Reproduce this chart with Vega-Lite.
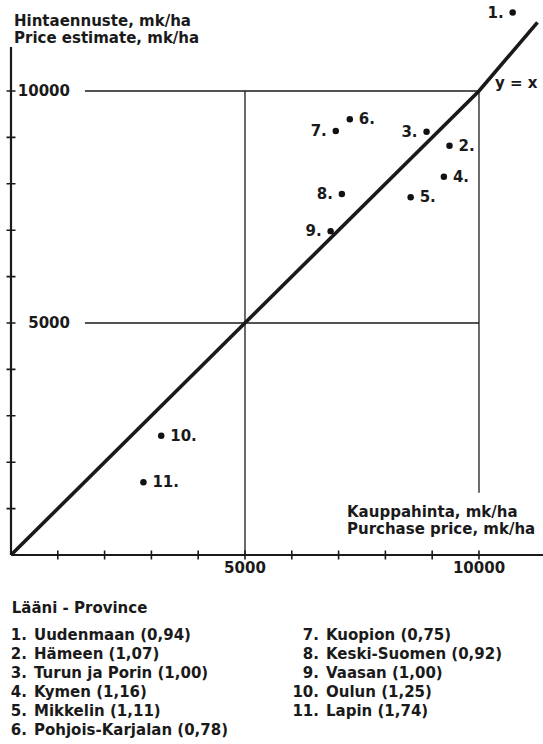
{
  "$schema": "https://vega.github.io/schema/vega-lite/v6.json",
  "width": 543,
  "height": 744,
  "autosize": "none",
  "padding": 0,
  "background": "white",
  "config": {
    "view": {"stroke": null},
    "axis": {"disable": true},
    "text": {"font": "DejaVu Sans", "fontWeight": "bold", "fontSize": 15, "color": "#1a1a1a"}
  },
  "datasets": {
    "provinces": [
      {"id": 1, "province": "Uudenmaan", "ratio": "0,94", "purchase": 10720, "estimate": 11690},
      {"id": 2, "province": "Hämeen", "ratio": "1,07", "purchase": 9370, "estimate": 8820},
      {"id": 3, "province": "Turun ja Porin", "ratio": "1,00", "purchase": 8880, "estimate": 9120},
      {"id": 4, "province": "Kymen", "ratio": "1,16", "purchase": 9250, "estimate": 8150},
      {"id": 5, "province": "Mikkelin", "ratio": "1,11", "purchase": 8540, "estimate": 7710},
      {"id": 6, "province": "Pohjois-Karjalan", "ratio": "0,78", "purchase": 7240, "estimate": 9390},
      {"id": 7, "province": "Kuopion", "ratio": "0,75", "purchase": 6940, "estimate": 9140},
      {"id": 8, "province": "Keski-Suomen", "ratio": "0,92", "purchase": 7070, "estimate": 7780},
      {"id": 9, "province": "Vaasan", "ratio": "1,00", "purchase": 6830, "estimate": 6980},
      {"id": 10, "province": "Oulun", "ratio": "1,25", "purchase": 3210, "estimate": 2570},
      {"id": 11, "province": "Lapin", "ratio": "1,74", "purchase": 2830, "estimate": 1570}
    ],
    "lines": [
      {"kind": "grid", "x1": 1580, "x2": 10000, "y1": 10000, "y2": 10000},
      {"kind": "grid", "x1": 1580, "x2": 10000, "y1": 5000, "y2": 5000},
      {"kind": "grid", "x1": 5000, "x2": 5000, "y1": 0, "y2": 10000},
      {"kind": "grid", "x1": 10000, "x2": 10000, "y1": 1340, "y2": 10000},
      {"kind": "axis", "x1": 0, "x2": 11368, "y1": 0, "y2": 0},
      {"kind": "axis", "x1": 0, "x2": 0, "y1": 0, "y2": 10950}
    ],
    "diagonal": [
      {"x": 0, "y": 0},
      {"x": 10000, "y": 10000},
      {"x": 11250, "y": 11480}
    ],
    "ticks": [
      {"v": 1000}, {"v": 2000}, {"v": 3000}, {"v": 4000}, {"v": 5000},
      {"v": 6000}, {"v": 7000}, {"v": 8000}, {"v": 9000}, {"v": 10000}
    ],
    "ticklabels": [{"v": 5000}, {"v": 10000}]
  },
  "layer": [
    {
      "layer": [
        {
          "data": {"name": "lines"},
          "transform": [{"filter": "datum.kind == 'grid'"}],
          "mark": {"type": "rule", "color": "#1a1a1a", "strokeWidth": 1.3},
          "encoding": {
            "x": {"field": "x1", "type": "quantitative", "scale": {"domain": [-235, 11368], "nice": false, "zero": false}},
            "x2": {"field": "x2"},
            "y": {"field": "y1", "type": "quantitative", "scale": {"domain": [-4073, 11961], "nice": false, "zero": false}},
            "y2": {"field": "y2"}
          }
        },
        {
          "data": {"name": "lines"},
          "transform": [{"filter": "datum.kind == 'axis'"}],
          "mark": {"type": "rule", "color": "#1a1a1a", "strokeWidth": 2.2},
          "encoding": {
            "x": {"field": "x1", "type": "quantitative", "scale": {"domain": [-235, 11368], "nice": false, "zero": false}},
            "x2": {"field": "x2"},
            "y": {"field": "y1", "type": "quantitative", "scale": {"domain": [-4073, 11961], "nice": false, "zero": false}},
            "y2": {"field": "y2"}
          }
        },
        {
          "data": {"name": "ticks"},
          "mark": {"type": "tick", "orient": "vertical", "size": 9, "thickness": 1.6, "color": "#1a1a1a", "opacity": 1},
          "encoding": {
            "x": {"field": "v", "type": "quantitative", "scale": {"domain": [-235, 11368], "nice": false, "zero": false}},
            "y": {"datum": 0, "type": "quantitative", "scale": {"domain": [-4073, 11961], "nice": false, "zero": false}}
          }
        },
        {
          "data": {"name": "ticks"},
          "mark": {"type": "tick", "orient": "horizontal", "size": 9, "thickness": 1.6, "color": "#1a1a1a", "opacity": 1},
          "encoding": {
            "y": {"field": "v", "type": "quantitative", "scale": {"domain": [-4073, 11961], "nice": false, "zero": false}},
            "x": {"datum": 0, "type": "quantitative", "scale": {"domain": [-235, 11368], "nice": false, "zero": false}}
          }
        },
        {
          "data": {"name": "diagonal"},
          "mark": {"type": "line", "color": "#1a1a1a", "strokeWidth": 3.6},
          "encoding": {
            "x": {"field": "x", "type": "quantitative", "scale": {"domain": [-235, 11368], "nice": false, "zero": false}},
            "y": {"field": "y", "type": "quantitative", "scale": {"domain": [-4073, 11961], "nice": false, "zero": false}}
          }
        },
        {
          "data": {"name": "provinces"},
          "mark": {"type": "circle", "size": 42, "color": "#111111", "opacity": 1},
          "encoding": {
            "x": {"field": "purchase", "type": "quantitative", "scale": {"domain": [-235, 11368], "nice": false, "zero": false}},
            "y": {"field": "estimate", "type": "quantitative", "scale": {"domain": [-4073, 11961], "nice": false, "zero": false}}
          }
        },
        {
          "data": {"name": "provinces"},
          "transform": [
            {"filter": {"field": "id", "oneOf": [1, 3, 7, 8, 9]}},
            {"calculate": "datum.id + '.'", "as": "num"}
          ],
          "mark": {"type": "text", "align": "right", "baseline": "middle", "dx": -9},
          "encoding": {
            "x": {"field": "purchase", "type": "quantitative", "scale": {"domain": [-235, 11368], "nice": false, "zero": false}},
            "y": {"field": "estimate", "type": "quantitative", "scale": {"domain": [-4073, 11961], "nice": false, "zero": false}},
            "text": {"field": "num"}
          }
        },
        {
          "data": {"name": "provinces"},
          "transform": [
            {"filter": {"not": {"field": "id", "oneOf": [1, 3, 7, 8, 9]}}},
            {"calculate": "datum.id + '.'", "as": "num"}
          ],
          "mark": {"type": "text", "align": "left", "baseline": "middle", "dx": 9},
          "encoding": {
            "x": {"field": "purchase", "type": "quantitative", "scale": {"domain": [-235, 11368], "nice": false, "zero": false}},
            "y": {"field": "estimate", "type": "quantitative", "scale": {"domain": [-4073, 11961], "nice": false, "zero": false}},
            "text": {"field": "num"}
          }
        },
        {
          "data": {"name": "ticklabels"},
          "mark": {"type": "text", "align": "center", "baseline": "middle", "dy": 13},
          "encoding": {
            "x": {"field": "v", "type": "quantitative", "scale": {"domain": [-235, 11368], "nice": false, "zero": false}},
            "y": {"datum": 0, "type": "quantitative", "scale": {"domain": [-4073, 11961], "nice": false, "zero": false}},
            "text": {"field": "v", "type": "quantitative", "format": "d"}
          }
        },
        {
          "data": {"name": "ticklabels"},
          "mark": {"type": "text", "align": "right", "baseline": "middle", "dx": 59},
          "encoding": {
            "y": {"field": "v", "type": "quantitative", "scale": {"domain": [-4073, 11961], "nice": false, "zero": false}},
            "x": {"datum": 0, "type": "quantitative", "scale": {"domain": [-235, 11368], "nice": false, "zero": false}},
            "text": {"field": "v", "type": "quantitative", "format": "d"}
          }
        },
        {
          "data": {"values": [{"t": "y = x", "v": 10000}]},
          "mark": {"type": "text", "align": "left", "baseline": "alphabetic", "dx": 16, "dy": -3},
          "encoding": {
            "x": {"field": "v", "type": "quantitative", "scale": {"domain": [-235, 11368], "nice": false, "zero": false}},
            "y": {"field": "v", "type": "quantitative", "scale": {"domain": [-4073, 11961], "nice": false, "zero": false}},
            "text": {"field": "t"}
          }
        },
        {
          "data": {"values": [{"v": 10000}]},
          "mark": {"type": "text", "align": "left", "baseline": "top", "dx": 3, "dy": -77, "lineHeight": 17.5},
          "encoding": {
            "x": {"datum": 0, "type": "quantitative", "scale": {"domain": [-235, 11368], "nice": false, "zero": false}},
            "y": {"field": "v", "type": "quantitative", "scale": {"domain": [-4073, 11961], "nice": false, "zero": false}},
            "text": {"value": ["Hintaennuste, mk/ha", "Price estimate, mk/ha"]}
          }
        },
        {
          "data": {"values": [{"v": 10000}]},
          "mark": {"type": "text", "align": "left", "baseline": "top", "dx": -132, "dy": -50, "lineHeight": 16.5},
          "encoding": {
            "x": {"field": "v", "type": "quantitative", "scale": {"domain": [-235, 11368], "nice": false, "zero": false}},
            "y": {"datum": 0, "type": "quantitative", "scale": {"domain": [-4073, 11961], "nice": false, "zero": false}},
            "text": {"value": ["Kauppahinta, mk/ha", "Purchase price, mk/ha"]}
          }
        }
      ]
    },
    {
      "layer": [
        {
          "data": {"name": "provinces"},
          "transform": [
            {"calculate": "datum.id + '.'", "as": "num"},
            {"calculate": "datum.id > 6 ? 1 : 0", "as": "col"},
            {"calculate": "datum.id > 6 ? datum.id - 6 : datum.id", "as": "row"}
          ],
          "mark": {"type": "text", "align": "right", "baseline": "middle"},
          "encoding": {
            "x": {"field": "col", "type": "quantitative", "scale": {"domain": [-0.09247, 1.76712], "nice": false, "zero": false}},
            "y": {"field": "row", "type": "quantitative", "scale": {"domain": [-32.395, 6.763], "reverse": true, "nice": false, "zero": false}},
            "text": {"field": "num"}
          }
        },
        {
          "data": {"name": "provinces"},
          "transform": [
            {"calculate": "datum.province + ' (' + datum.ratio + ')'", "as": "label"},
            {"calculate": "datum.id > 6 ? 1 : 0", "as": "col"},
            {"calculate": "datum.id > 6 ? datum.id - 6 : datum.id", "as": "row"}
          ],
          "mark": {"type": "text", "align": "left", "baseline": "middle", "dx": 7},
          "encoding": {
            "x": {"field": "col", "type": "quantitative", "scale": {"domain": [-0.09247, 1.76712], "nice": false, "zero": false}},
            "y": {"field": "row", "type": "quantitative", "scale": {"domain": [-32.395, 6.763], "reverse": true, "nice": false, "zero": false}},
            "text": {"field": "label"}
          }
        },
        {
          "data": {"values": [{"t": "Lääni - Province"}]},
          "mark": {"type": "text", "align": "left", "baseline": "middle", "dx": -15.3, "dy": -27},
          "encoding": {
            "x": {"datum": 0, "type": "quantitative", "scale": {"domain": [-0.09247, 1.76712], "nice": false, "zero": false}},
            "y": {"datum": 1, "type": "quantitative", "scale": {"domain": [-32.395, 6.763], "reverse": true, "nice": false, "zero": false}},
            "text": {"field": "t"}
          }
        }
      ]
    }
  ],
  "resolve": {"scale": {"x": "independent", "y": "independent"}}
}
